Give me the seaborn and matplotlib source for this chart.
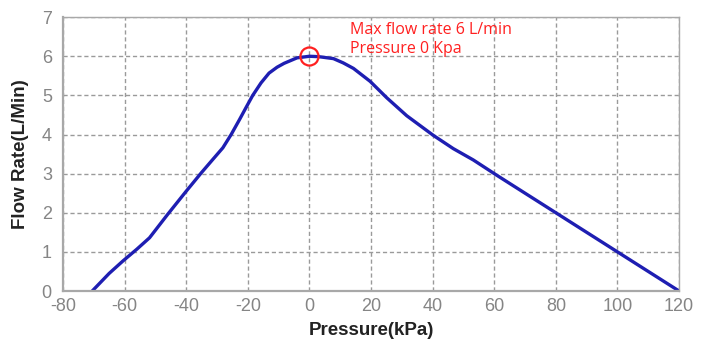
import matplotlib
matplotlib.use("Agg")
import matplotlib.pyplot as plt
import seaborn as sns
import pandas as pd

# Flow curve of the pump: pressure (kPa) vs flow rate (L/min)
pressure = [-70.5, -65, -60.5, -56, -51.9, -46, -40, -35.1, -31.5, -28.1, -25.4,
            -22.7, -20.5, -18.4, -15.7, -13.1, -10.5, -8.2, -4, 0, 3, 7.8, 11,
            14.3, 19.7, 25.1, 31.6, 40.2, 46.7, 53.2, 60.8, 80, 100, 120]
flow = [0, 0.45, 0.77, 1.07, 1.36, 1.96, 2.55, 3.02, 3.35, 3.66, 4.0,
        4.38, 4.7, 5.0, 5.32, 5.57, 5.72, 5.82, 5.96, 6, 5.99, 5.94, 5.83,
        5.69, 5.36, 4.94, 4.48, 3.98, 3.64, 3.35, 2.96, 2, 1, 0]

x_ticks = [-80, -60, -40, -20, 0, 20, 40, 60, 80, 100, 120]
y_ticks = [0, 1, 2, 3, 4, 5, 6, 7]

peak_pressure = 0
peak_flow = 6
note_lines = ["Max flow rate 6 L/min", "Pressure 0 Kpa"]

sns.set_theme(style="white")
plt.rcParams["font.family"] = ["Liberation Sans", "DejaVu Sans"]
plt.rcParams["axes.unicode_minus"] = False

df = pd.DataFrame({"Pressure(kPa)": pressure, "Flow Rate(L/Min)": flow})

fig = plt.figure(figsize=(7.02, 3.43), dpi=100)
ax = fig.add_axes([0.0897, 0.1516, 0.8776, 0.7984])

sns.lineplot(data=df, x="Pressure(kPa)", y="Flow Rate(L/Min)", ax=ax,
             color="#1e1eb2", linewidth=2.4, sort=False,
             solid_joinstyle="round", solid_capstyle="round")

ax.set_xlim(-80, 120)
ax.set_ylim(0, 7)
ax.set_xticks(x_ticks)
ax.set_yticks(y_ticks)
ax.tick_params(axis="x", length=0, labelsize=13, labelcolor="#858585", pad=5)
ax.tick_params(axis="y", length=0, labelsize=13, labelcolor="#858585", pad=8)

ax.grid(True, color="#9a9a9a", linestyle=(0, (3, 2)), linewidth=1.0)
for side, sp in ax.spines.items():
    sp.set_color("#a8a8a8")
    sp.set_linewidth(1.6 if side in ("left", "bottom") else 1.0)

ax.set_xlabel("Pressure(kPa)", fontsize=13.5, fontweight="bold", color="#222222", labelpad=5)
ax.set_ylabel("Flow Rate(L/Min)", fontsize=13.5, fontweight="bold", color="#222222", labelpad=9)

# Mark the maximum flow point
ax.plot([peak_pressure], [peak_flow], marker="o", markersize=13, markerfacecolor="none",
        markeredgecolor="#ff2020", markeredgewidth=1.6, zorder=5)

ax.text(13.3, 6.44, note_lines[0] + "\n" + note_lines[1], color="#ff2020", fontsize=11.5,
        family=["Open Sans", "DejaVu Sans"], va="center", ha="left", linespacing=1.25)

fig.savefig("out.png", dpi=100)
